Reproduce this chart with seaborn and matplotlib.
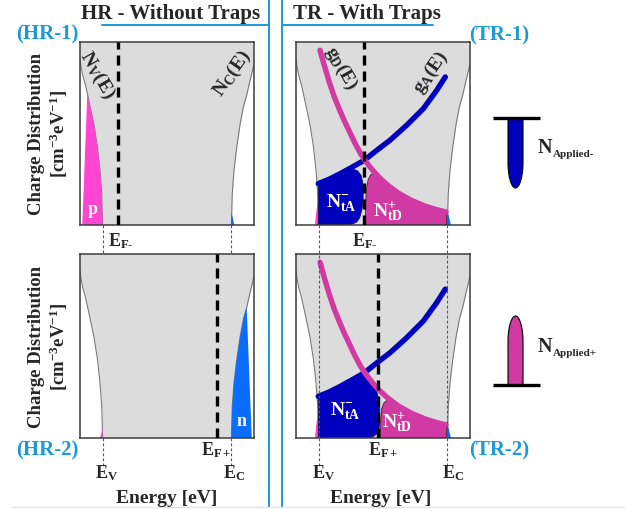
import numpy as np
import matplotlib
matplotlib.use("Agg")
import matplotlib.pyplot as plt
from matplotlib.path import Path
from matplotlib.patches import PathPatch
import seaborn as sns

# energy runs 0..1 across a panel, charge density 0..1 bottom to top
E_V, E_C = 0.13, 0.87
ef_hr = [0.218, 0.787]   # E_F- (top), E_F+ (bottom)
ef_tr = [0.391, 0.47]

# band density of states edges
nv_E = [0.0, 0.005, 0.015, 0.03, 0.042, 0.06, 0.08, 0.10, 0.115, 0.125, 0.13]
nv_D = [0.91, 0.87, 0.82, 0.77, 0.72, 0.64, 0.55, 0.43, 0.30, 0.17, 0.0]
nc_E = [0.87, 0.875, 0.885, 0.90, 0.92, 0.94, 0.958, 0.97, 0.985, 0.995, 1.0]
nc_D = [0.0, 0.17, 0.30, 0.42, 0.55, 0.65, 0.71, 0.76, 0.82, 0.86, 0.88]

# free carriers
p_E = [0.013, 0.042, 0.06, 0.08, 0.10, 0.115, 0.125, 0.13]
p_D = [0.0, 0.72, 0.64, 0.55, 0.43, 0.30, 0.17, 0.0]
n_E = [0.87, 0.875, 0.885, 0.90, 0.92, 0.94, 0.958, 0.987]
n_D = [0.0, 0.17, 0.30, 0.42, 0.55, 0.65, 0.71, 0.0]
n_small_E = [0.868, 0.870, 0.876, 0.886]
n_small_D = [0.0, 0.06, 0.05, 0.0]
p_small_E = [0.115, 0.124, 0.13, 0.13]
p_small_D = [0.0, 0.03, 0.06, 0.0]
p_tr_E = [0.109, 0.115, 0.122, 0.128, 0.128]
p_tr_D = [0.0, 0.06, 0.11, 0.14, 0.0]
n_tr_E = [0.866, 0.866, 0.878, 0.89]
n_tr_D = [0.0, 0.09, 0.05, 0.0]

# trap distributions
gA_E = [0.128, 0.19, 0.253, 0.32, 0.391, 0.46, 0.54, 0.636, 0.732, 0.808, 0.858]
gA_D = [0.226, 0.25, 0.28, 0.315, 0.353, 0.405, 0.463, 0.545, 0.636, 0.735, 0.809]
gD_E = [0.138, 0.16, 0.19, 0.22, 0.25, 0.28, 0.31, 0.34, 0.37, 0.40, 0.44, 0.48,
        0.53, 0.59, 0.66, 0.74, 0.80, 0.862]
gD_D = [0.955, 0.88, 0.785, 0.70, 0.63, 0.565, 0.505, 0.445, 0.392, 0.348, 0.30, 0.258,
        0.215, 0.173, 0.136, 0.104, 0.086, 0.071]

ntA1_E = [0.128, 0.128, 0.19, 0.253, 0.30, 0.33, 0.355, 0.375, 0.386, 0.386, 0.378, 0.366, 0.349, 0.31]
ntA1_D = [0.0, 0.226, 0.25, 0.28, 0.30, 0.305, 0.295, 0.27, 0.22, 0.14, 0.08, 0.04, 0.016, 0.0]
ntD1_E = [0.397, 0.40, 0.405, 0.415, 0.43, 0.445, 0.48, 0.53, 0.59, 0.66, 0.74, 0.80, 0.866, 0.866]
ntD1_D = [0.0, 0.12, 0.20, 0.25, 0.275, 0.283, 0.256, 0.213, 0.171, 0.134, 0.102, 0.084, 0.069, 0.0]
ntA2_E = [0.128, 0.128, 0.19, 0.253, 0.32, 0.391, 0.42, 0.445, 0.462, 0.474, 0.481, 0.482,
          0.476, 0.464, 0.44, 0.40]
ntA2_D = [0.0, 0.226, 0.25, 0.28, 0.315, 0.355, 0.32, 0.29, 0.26, 0.215, 0.17, 0.09,
          0.045, 0.022, 0.006, 0.0]
ntD2_E = [0.485, 0.487, 0.493, 0.505, 0.52, 0.535, 0.56, 0.59, 0.66, 0.74, 0.80, 0.866, 0.866]
ntD2_D = [0.0, 0.10, 0.16, 0.19, 0.203, 0.205, 0.19, 0.171, 0.134, 0.102, 0.084, 0.069, 0.0]

GRAY = "#dcdcdc"
PINK = "#ff45d2"
MAG = "#d23aa3"
NAVY = "#0000bf"
AZURE = "#0b6dff"
CYAN = "#1b9ad6"

sns.set_style("white")
plt.rcParams["font.family"] = ["Liberation Serif", "DejaVu Serif"]
plt.rcParams["font.weight"] = "bold"
plt.rcParams["mathtext.fontset"] = "custom"
plt.rcParams["mathtext.rm"] = "Liberation Serif:bold"
plt.rcParams["mathtext.it"] = "Liberation Serif:bold"
plt.rcParams["mathtext.bf"] = "Liberation Serif:bold"
plt.rcParams["mathtext.default"] = "rm"

W, H = 625, 510
fig = plt.figure(figsize=(W / 100, H / 100), dpi=100)

# background layer in pixel coordinates (separators, legend glyphs)
ov = fig.add_axes([0, 0, 1, 1], zorder=-1)
ov.set_xlim(0, W)
ov.set_ylim(H, 0)
ov.axis("off")


def txt(x, y, s, **kw):
    kw.setdefault("ha", "center")
    kw.setdefault("va", "baseline")
    return fig.text(x / W, 1 - y / H, s, zorder=6, **kw)


def panel(x0, y0, x1, y1):
    ax = fig.add_axes([x0 / W, 1 - y1 / H, (x1 - x0) / W, (y1 - y0) / H])
    ax.set_xlim(0, 1)
    ax.set_ylim(0, 1)
    ax.set_xticks([])
    ax.set_yticks([])
    ax.set_facecolor(GRAY)
    for s in ax.spines.values():
        s.set_color("#3c3c3c")
        s.set_linewidth(1.1)
    ax.fill_between(nv_E, 0, nv_D, color="white", lw=0)
    ax.fill_between(nc_E, 0, nc_D, color="white", lw=0)
    sns.lineplot(x=nv_E, y=nv_D, ax=ax, color="#7a7a7a", linewidth=0.8, estimator=None, sort=False)
    sns.lineplot(x=nc_E, y=nc_D, ax=ax, color="#7a7a7a", linewidth=0.8, estimator=None, sort=False)
    return ax


def traps(ax, a_E, a_D, d_E, d_D):
    ax.fill(p_tr_E, p_tr_D, color=PINK, lw=0, zorder=2)
    ax.fill(n_tr_E, n_tr_D, color=AZURE, lw=0, zorder=2)
    ax.fill(a_E, a_D, facecolor=NAVY, edgecolor="#1a1a40", lw=0.6, zorder=2)
    ax.fill(d_E, d_D, facecolor=MAG, edgecolor="#402030", lw=0.6, zorder=2)
    sns.lineplot(x=gA_E, y=gA_D, ax=ax, color=NAVY, linewidth=3.9, estimator=None, sort=False, zorder=3)
    sns.lineplot(x=gD_E, y=gD_D, ax=ax, color=MAG, linewidth=3.9, estimator=None, sort=False, zorder=3)


def fermi(ax, ef):
    ax.axvline(ef, color="black", lw=2.4, ls=(0, (3, 1.8)), zorder=4)


def guides(ax, xs, y_lo, inside=False):
    for x in xs:
        ax.plot([x, x], [0, y_lo], ls=(0, (2.5, 2)), lw=0.8, color="#555555", clip_on=False, zorder=5)
        if inside:
            ax.plot([x, x], [0, 1], ls=(0, (2.5, 2)), lw=0.8, color="#555555", zorder=5)


# --- HR panels
hr1 = panel(80, 43, 254, 226)
hr1.fill(p_E, p_D, color=PINK, lw=0, zorder=2)
hr1.fill(n_small_E, n_small_D, color=AZURE, lw=0, zorder=2)
fermi(hr1, ef_hr[0])
guides(hr1, [E_V, E_C], -0.16)

hr2 = panel(80, 255, 254, 439)
hr2.fill(n_E, n_D, color=AZURE, lw=0, zorder=2)
hr2.fill(p_small_E, p_small_D, color=PINK, lw=0, zorder=2)
fermi(hr2, ef_hr[1])
guides(hr2, [E_V, E_C], -0.15)

# --- TR panels
tr1 = panel(296, 43, 470, 226)
traps(tr1, ntA1_E, ntA1_D, ntD1_E, ntD1_D)
fermi(tr1, ef_tr[0])
guides(tr1, [E_V, E_C], -0.16)

tr2 = panel(296, 255, 470, 439)
traps(tr2, ntA2_E, ntA2_D, ntD2_E, ntD2_D)
fermi(tr2, ef_tr[1])
guides(tr2, [E_V, E_C], -0.15, inside=True)

# separators and title underlines
for x in [268.5, 282]:
    ov.plot([x, x], [0, 508], color=CYAN, lw=1.4)
ov.plot([102, 268.5], [26, 26], color=CYAN, lw=1.4)
ov.plot([282, 433], [26, 26], color=CYAN, lw=1.4)
ov.plot([12, W], [507.5, 507.5], color="#e4e4e4", lw=1)


def applied(xc, ybar, tip, color):
    # drop-shaped marker hanging from (or standing on) a bar
    hw, r = 7.5, 26
    d = np.sign(tip - ybar)
    t = np.linspace(0, np.pi, 40)
    yc = tip - d * r
    xs = [xc - hw] + list(xc - hw * np.cos(t)) + [xc + hw]
    ys = [ybar] + list(yc + d * r * np.sin(t)) + [ybar]
    verts = list(zip(xs, ys)) + [(xs[0], ys[0])]
    ov.add_patch(PathPatch(Path(verts, closed=True), facecolor=color, edgecolor="black", lw=0.8))
    ov.plot([xc - 22.5, xc + 24], [ybar, ybar], color="black", lw=2.4, solid_capstyle="butt")


applied(515.5, 119, 189, NAVY)
applied(515.5, 386, 317, MAG)

# --- text
txt(171, 19.5, "HR - Without Traps", fontsize=15)
txt(367, 19.5, "TR - With Traps", fontsize=15)
txt(47, 39.5, "(HR-1)", fontsize=15, color=CYAN)
txt(499, 40, "(TR-1)", fontsize=15, color=CYAN)
txt(47, 455, "(HR-2)", fontsize=15, color=CYAN)
txt(499, 455, "(TR-2)", fontsize=15, color=CYAN)

ylab = "Charge Distribution\n[cm$^{-3}$eV$^{-1}$]"
txt(49, 134, ylab, fontsize=13.5, rotation=90, va="center", multialignment="center", linespacing=1.2)
txt(49, 347, ylab, fontsize=13.5, rotation=90, va="center", multialignment="center", linespacing=1.2)
txt(167, 503, "Energy [eV]", fontsize=14)
txt(381, 503, "Energy [eV]", fontsize=14)

txt(121, 246.5, "E$_{\\mathrm{F\u2010}}$", fontsize=13)
txt(365, 246.5, "E$_{\\mathrm{F\u2010}}$", fontsize=13)
txt(216, 455, "E$_{\\mathrm{F+}}$", fontsize=13)
txt(383, 455, "E$_{\\mathrm{F+}}$", fontsize=13)
for x, s in [(107, "V"), (234, "C"), (324, "V"), (453, "C")]:
    txt(x, 478, "E$_{\\mathrm{%s}}$" % s, fontsize=13)

rot = dict(va="center", rotation_mode="anchor", fontsize=14)
txt(97.5, 75, "N$_{\\mathrm{V}}$(E)", rotation=-60, **rot)
txt(232, 74, "N$_{\\mathrm{C}}$(E)", rotation=55, **rot)
txt(341.5, 68, "g$_{\\mathrm{D}}$(E)", rotation=-60, **rot)
txt(431, 73, "g$_{\\mathrm{A}}$(E)", rotation=55, **rot)

txt(93, 210, "p", fontsize=13, color="white", va="center")
txt(242, 422, "n", fontsize=13, color="white", va="center")
txt(341.5, 203, "N$_{\\mathrm{tA}}^{-}$", fontsize=14, color="white", va="center")
txt(387.5, 211, "N$_{\\mathrm{tD}}^{+}$", fontsize=14, color="white", va="center")
txt(345.5, 411, "N$_{\\mathrm{tA}}^{-}$", fontsize=14, color="white", va="center")
txt(396.5, 422, "N$_{\\mathrm{tD}}^{+}$", fontsize=14, color="white", va="center")

txt(538, 153, "N", fontsize=14.5, ha="left")
txt(553, 157, "Applied-", fontsize=8, ha="left")
txt(538, 352, "N", fontsize=14.5, ha="left")
txt(553, 356, "Applied+", fontsize=8, ha="left")

fig.savefig("out.png", dpi=100)
